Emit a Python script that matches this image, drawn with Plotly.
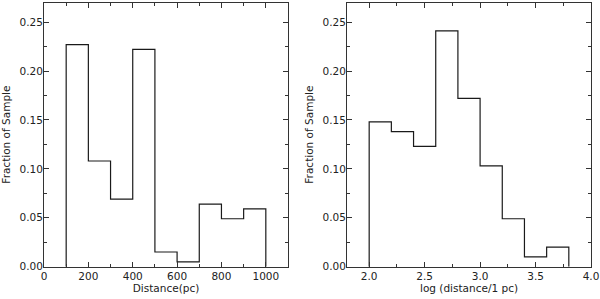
import plotly.graph_objects as go

# Left histogram: distance (pc)
dist_edges = [100, 200, 300, 400, 500, 600, 700, 800, 900, 1000]
dist_frac = [0.227, 0.108, 0.069, 0.222, 0.015, 0.005, 0.064, 0.049, 0.059]

# Right histogram: log distance
logd_edges = [2.0, 2.2, 2.4, 2.6, 2.8, 3.0, 3.2, 3.4, 3.6, 3.8]
logd_frac = [0.148, 0.138, 0.123, 0.241, 0.172, 0.103, 0.049, 0.010, 0.020]

y_ticks = [0.00, 0.05, 0.10, 0.15, 0.20, 0.25]
y_ticklabels = ["0.00", "0.05", "0.10", "0.15", "0.20", "0.25"]
x1_ticks = [0, 200, 400, 600, 800, 1000]
x2_ticks = [2.0, 2.5, 3.0, 3.5, 4.0]
x2_ticklabels = ["2.0", "2.5", "3.0", "3.5", "4.0"]


def step_xy(edges, vals):
    xs = [edges[0]] + list(edges)
    ys = [0] + list(vals) + [0]
    return xs, ys


LINE = "#1a1a1a"
FONT = dict(family="DejaVu Sans", size=10.5, color="#222")

fig = go.Figure()
x, y = step_xy(dist_edges, dist_frac)
fig.add_trace(go.Scatter(x=x, y=y, mode="lines", line=dict(color=LINE, width=1.2, shape="hv"),
                         xaxis="x", yaxis="y", showlegend=False, hoverinfo="skip"))
x, y = step_xy(logd_edges, logd_frac)
fig.add_trace(go.Scatter(x=x, y=y, mode="lines", line=dict(color=LINE, width=1.2, shape="hv"),
                         xaxis="x2", yaxis="y2", showlegend=False, hoverinfo="skip"))

W, H = 600, 299
ydom = [(H - 266.7) / H, (H - 2.5) / H]

axis_common = dict(showgrid=False, zeroline=False, showline=True, linecolor="#333", linewidth=1,
                   mirror="allticks", ticks="inside", ticklen=5, tickwidth=1, tickcolor="#333",
                   tickfont=FONT, automargin=False)

fig.update_layout(
    width=W, height=H,
    margin=dict(l=0, r=0, t=0, b=0),
    paper_bgcolor="white", plot_bgcolor="white",
    font=FONT,
    xaxis=dict(domain=[44 / W, 288 / W], range=[0, 1100], tickvals=x1_ticks,
               minor=dict(dtick=100, tick0=0, ticks="inside", ticklen=3, tickcolor="#333"),
               title=dict(text="Distance(pc)", font=FONT, standoff=1), anchor="y", **axis_common),
    yaxis=dict(domain=ydom, range=[0, 0.27], tickvals=y_ticks, ticktext=y_ticklabels,
               ticklabelstandoff=-2,
               minor=dict(dtick=0.025, tick0=0, ticks="inside", ticklen=3, tickcolor="#333"),
               title=dict(text="Fraction of Sample", font=FONT, standoff=6), anchor="x", **axis_common),
    xaxis2=dict(domain=[347 / W, 591 / W], range=[1.8, 4.0], tickvals=x2_ticks, ticktext=x2_ticklabels,
                minor=dict(dtick=0.25, tick0=0, ticks="inside", ticklen=3, tickcolor="#333"),
                title=dict(text="log (distance/1 pc)", font=FONT, standoff=1), anchor="y2", **axis_common),
    yaxis2=dict(domain=ydom, range=[0, 0.27], tickvals=y_ticks, ticktext=y_ticklabels,
                ticklabelstandoff=-2,
                minor=dict(dtick=0.025, tick0=0, ticks="inside", ticklen=3, tickcolor="#333"),
                title=dict(text="Fraction of Sample", font=FONT, standoff=6), anchor="x2", **axis_common),
)

fig.write_html("out.html", config={"displayModeBar": False},
               post_script="document.body.style.margin='0';document.body.style.padding='0';")
